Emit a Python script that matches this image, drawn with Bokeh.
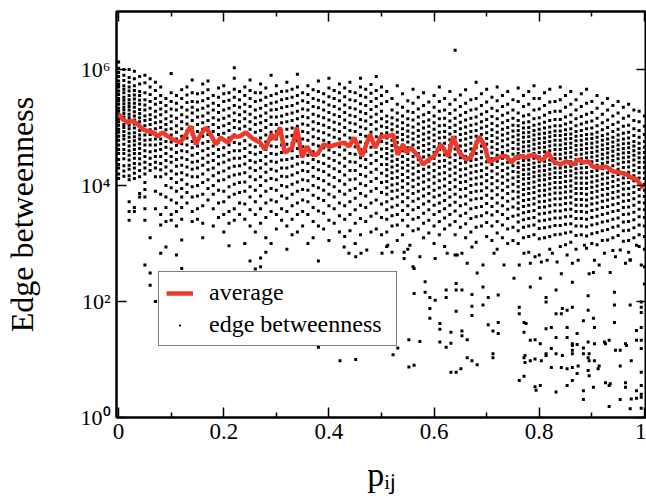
import math
from bokeh.plotting import figure
from bokeh.models import (Range1d, LinearAxis, LogAxis, FixedTicker,
                          Legend, LegendItem, CustomJSTickFormatter)
from bokeh.embed import file_html
from bokeh.resources import INLINE

FONT = "Liberation Serif"

# ---- data ----------------------------------------------------------------
# average edge betweenness vs p_ij (red line)
avg_p = [0.000, 0.008, 0.017, 0.027, 0.036, 0.046, 0.055, 0.065, 0.074, 0.084,
         0.093, 0.103, 0.116, 0.125, 0.137, 0.147, 0.156, 0.166, 0.175, 0.185,
         0.194, 0.208, 0.217, 0.230, 0.242, 0.257, 0.269, 0.278, 0.291, 0.297,
         0.307, 0.316, 0.330, 0.339, 0.349, 0.358, 0.368, 0.377, 0.390, 0.402,
         0.415, 0.429, 0.438, 0.448, 0.463, 0.478, 0.488, 0.499, 0.512, 0.522,
         0.531, 0.541, 0.547, 0.556, 0.570, 0.579, 0.590, 0.600, 0.613, 0.627,
         0.636, 0.648, 0.661, 0.670, 0.686, 0.695, 0.705, 0.714, 0.728, 0.737,
         0.747, 0.756, 0.764, 0.775, 0.789, 0.802, 0.808, 0.817, 0.827, 0.840,
         0.851, 0.865, 0.874, 0.884, 0.893, 0.903, 0.916, 0.928, 0.941, 0.954,
         0.966, 0.975, 0.985, 0.998]
avg_eb = [169000, 139000, 122000, 130000, 114000, 93000, 87000, 82000, 71000, 82000,
          71000, 62500, 55000, 67000, 106000, 51000, 76000, 100000, 76000, 51000,
          67000, 55000, 70000, 70000, 82000, 62500, 55000, 42000, 76000, 62500,
          100000, 37000, 45000, 100000, 30500, 47000, 34000, 34000, 51000, 47000,
          51000, 55000, 47000, 67000, 32000, 76000, 45000, 70000, 70000, 76000,
          34000, 51000, 37000, 45000, 32000, 23000, 28000, 32000, 51000, 32000,
          70000, 37000, 28000, 30500, 70000, 51000, 25000, 28000, 32000, 32000,
          25000, 30500, 32000, 30500, 34000, 28000, 28000, 37000, 26000, 23000,
          26000, 23000, 28000, 25000, 26000, 21000, 20500, 21000, 17400, 16700,
          15500, 13700, 12700, 9000]

# individual edges: p_ij columns and log10(edge betweenness) in each column
p_col = [0.00, 0.01, 0.02, 0.03, 0.04, 0.05, 0.06, 0.07, 0.08, 0.09,
         0.10, 0.11, 0.12, 0.13, 0.14, 0.15, 0.16, 0.17, 0.18, 0.19,
         0.20, 0.21, 0.22, 0.23, 0.24, 0.25, 0.26, 0.27, 0.28, 0.29,
         0.30, 0.31, 0.32, 0.33, 0.34, 0.35, 0.36, 0.37, 0.38, 0.39,
         0.40, 0.41, 0.42, 0.43, 0.44, 0.45, 0.46, 0.47, 0.48, 0.49,
         0.50, 0.51, 0.52, 0.53, 0.54, 0.55, 0.56, 0.57, 0.58, 0.59,
         0.60, 0.61, 0.62, 0.63, 0.64, 0.65, 0.66, 0.67, 0.68, 0.69,
         0.70, 0.71, 0.72, 0.73, 0.74, 0.75, 0.76, 0.77, 0.78, 0.79,
         0.80, 0.81, 0.82, 0.83, 0.84, 0.85, 0.86, 0.87, 0.88, 0.89,
         0.90, 0.91, 0.92, 0.93, 0.94, 0.95, 0.96, 0.97, 0.98, 0.99, 1.00]
log_eb_col = [
    [6.13, 6.02, 5.95, 5.88, 5.8, 5.74, 5.7, 5.63, 5.57, 5.5, 5.46, 5.4, 5.33, 5.28, 5.22, 5.15, 5.1, 5.04, 4.97, 4.92, 4.85, 4.78, 4.7, 4.62, 4.55, 4.45, 4.36, 4.3, 4.2, 4.12],
    [6.0, 5.9, 5.81, 5.72, 5.66, 5.6, 5.52, 5.47, 5.41, 5.35, 5.3, 5.24, 5.18, 5.12, 5.05, 5.0, 4.93, 4.86, 4.8, 4.71, 4.62, 4.55, 4.46, 4.34, 4.25, 4.16],
    [6.0, 5.86, 5.78, 5.7, 5.63, 5.55, 5.48, 5.42, 5.36, 5.3, 5.23, 5.17, 5.11, 5.04, 4.98, 4.9, 4.83, 4.76, 4.68, 4.6, 4.52, 4.44, 4.35, 4.28, 4.17, 4.1, 3.72, 3.55, 3.4],
    [5.97, 5.84, 5.72, 5.64, 5.56, 5.49, 5.42, 5.35, 5.27, 5.2, 5.13, 5.06, 4.99, 4.91, 4.84, 4.77, 4.7, 4.62, 4.55, 4.47, 4.38, 4.3, 4.21, 4.12, 3.62, 3.55],
    [5.88, 5.75, 5.62, 5.55, 5.47, 5.4, 5.31, 5.24, 5.17, 5.1, 5.02, 4.95, 4.87, 4.8, 4.72, 4.64, 4.55, 4.46, 4.37, 4.26, 4.15, 3.86, 3.8],
    [5.9, 5.77, 5.6, 5.48, 5.39, 5.3, 5.2, 5.12, 5.03, 4.95, 4.87, 4.78, 4.7, 4.6, 4.5, 4.4, 4.3, 4.2, 4.05, 3.93, 3.8, 3.6, 3.4, 2.63],
    [5.84, 5.7, 5.57, 5.45, 5.33, 5.22, 5.14, 5.05, 4.96, 4.88, 4.79, 4.7, 4.58, 4.47, 4.36, 4.26, 3.1, 2.49, 2.28],
    [5.78, 5.64, 5.5, 5.4, 5.28, 5.18, 5.08, 4.98, 4.9, 4.8, 4.7, 4.6, 4.5, 4.4, 4.3, 4.15, 3.9, 3.6, 2.0],
    [5.7, 5.55, 5.43, 5.32, 5.22, 5.1, 5.0, 4.9, 4.8, 4.72, 4.62, 4.5, 4.38, 4.27, 4.15, 3.85, 3.5, 3.32, 2.83, 1.67],
    [5.5, 5.38, 5.27, 5.15, 5.05, 4.96, 4.86, 4.76, 4.66, 4.55, 4.43, 4.32, 4.2, 4.0, 3.8, 3.62, 3.38, 2.94],
    [5.93, 5.6, 5.45, 5.32, 5.2, 5.1, 4.98, 4.87, 4.75, 4.63, 4.5, 4.4, 4.25, 4.12, 3.96, 3.75, 3.5, 3.4],
    [5.55, 5.42, 5.3, 5.16, 5.03, 4.92, 4.8, 4.69, 4.57, 4.45, 4.33, 4.2, 4.05, 3.9, 3.7, 3.55, 3.3, 2.8],
    [5.65, 5.5, 5.35, 5.22, 5.1, 4.98, 4.85, 4.72, 4.6, 4.48, 4.35, 4.22, 4.1, 3.95, 3.8, 3.62, 3.42, 3.06, 2.57],
    [5.7, 5.56, 5.43, 5.3, 5.18, 5.06, 4.94, 4.82, 4.7, 4.58, 4.45, 4.32, 4.18, 4.02, 3.88, 3.7],
    [5.82, 5.6, 5.45, 5.35, 5.25, 5.12, 5.0, 4.88, 4.76, 4.65, 4.52, 4.4, 4.28, 4.15, 3.98, 3.8, 3.55, 3.38],
    [5.58, 5.44, 5.3, 5.18, 5.05, 4.93, 4.8, 4.68, 4.55, 4.42, 4.3, 4.15, 4.0, 3.82, 3.6, 3.42],
    [5.75, 5.6, 5.46, 5.33, 5.2, 5.08, 4.97, 4.85, 4.73, 4.6, 4.47, 4.35, 4.2, 4.05, 3.85, 3.65, 3.35, 3.1],
    [5.8, 5.65, 5.5, 5.37, 5.25, 5.12, 5.0, 4.88, 4.76, 4.64, 4.52, 4.4, 4.27, 4.1, 3.95, 3.75],
    [5.55, 5.42, 5.3, 5.17, 5.05, 4.93, 4.8, 4.68, 4.55, 4.43, 4.3, 4.17, 4.0, 3.85, 3.6, 3.3],
    [5.68, 5.52, 5.38, 5.26, 5.13, 5.0, 4.88, 4.75, 4.62, 4.5, 4.37, 4.22, 4.08, 3.92, 3.7, 3.45],
    [5.72, 5.58, 5.45, 5.3, 5.16, 5.03, 4.9, 4.78, 4.65, 4.52, 4.4, 4.25, 4.1, 3.9, 3.72, 3.5, 3.2],
    [5.6, 5.47, 5.33, 5.2, 5.07, 4.95, 4.82, 4.7, 4.57, 4.44, 4.3, 4.15, 3.98, 3.8, 3.55, 3.35, 2.96],
    [6.03, 5.85, 5.66, 5.52, 5.38, 5.25, 5.12, 5.0, 4.87, 4.74, 4.6, 4.47, 4.33, 4.18, 4.02, 3.85, 3.6, 3.4],
    [5.62, 5.48, 5.35, 5.22, 5.1, 4.98, 4.85, 4.72, 4.6, 4.47, 4.34, 4.2, 4.05, 3.88, 3.7, 3.5],
    [5.7, 5.55, 5.4, 5.27, 5.15, 5.02, 4.9, 4.77, 4.64, 4.5, 4.37, 4.22, 4.06, 3.9, 3.68, 3.42, 3.0],
    [5.82, 5.64, 5.5, 5.36, 5.23, 5.1, 4.97, 4.84, 4.7, 4.57, 4.43, 4.3, 4.15, 3.98, 3.8, 3.58, 3.3, 2.7],
    [5.6, 5.45, 5.3, 5.17, 5.05, 4.92, 4.8, 4.67, 4.54, 4.4, 4.26, 4.1, 3.92, 3.72, 3.5, 3.2, 2.56],
    [5.75, 5.6, 5.47, 5.33, 5.2, 5.08, 4.95, 4.82, 4.7, 4.57, 4.43, 4.3, 4.15, 4.0, 3.82, 3.6, 3.35, 2.75, 2.6],
    [5.68, 5.52, 5.38, 5.25, 5.12, 5.0, 4.87, 4.75, 4.62, 4.5, 4.37, 4.23, 4.08, 3.9, 3.7, 3.45, 3.1, 2.85],
    [5.9, 5.55, 5.42, 5.3, 5.18, 5.05, 4.92, 4.8, 4.68, 4.55, 4.42, 4.28, 4.12, 3.95, 3.75, 3.55, 3.0],
    [5.72, 5.58, 5.44, 5.31, 5.18, 5.05, 4.93, 4.8, 4.67, 4.54, 4.4, 4.25, 4.1, 3.92, 3.72, 3.5, 3.25],
    [5.62, 5.48, 5.34, 5.2, 5.08, 4.95, 4.82, 4.7, 4.57, 4.44, 4.3, 4.16, 4.0, 3.82, 3.6, 3.4],
    [5.78, 5.63, 5.5, 5.36, 5.23, 5.1, 4.97, 4.84, 4.71, 4.58, 4.45, 4.3, 4.15, 3.98, 3.78, 3.55, 3.3, 2.9],
    [5.66, 5.52, 5.38, 5.25, 5.12, 4.99, 4.86, 4.73, 4.6, 4.47, 4.33, 4.18, 4.02, 3.85, 3.65, 3.42, 3.15],
    [5.92, 5.7, 5.55, 5.42, 5.28, 5.15, 5.02, 4.9, 4.77, 4.64, 4.5, 4.37, 4.22, 4.06, 3.9, 3.7, 3.5, 3.2],
    [5.6, 5.46, 5.32, 5.19, 5.06, 4.93, 4.8, 4.67, 4.54, 4.4, 4.26, 4.1, 3.93, 3.75, 3.55, 3.3],
    [5.72, 5.57, 5.43, 5.3, 5.17, 5.04, 4.91, 4.78, 4.65, 4.52, 4.38, 4.24, 4.08, 3.92, 3.72, 3.5, 3.0],
    [5.65, 5.5, 5.36, 5.23, 5.1, 4.97, 4.84, 4.71, 4.58, 4.45, 4.31, 4.16, 4.0, 3.83, 3.62, 3.38, 3.1],
    [5.8, 5.62, 5.47, 5.34, 5.2, 5.07, 4.94, 4.81, 4.68, 4.55, 4.41, 4.27, 4.12, 3.96, 3.78, 3.56, 3.3, 2.7, 1.21],
    [5.58, 5.44, 5.3, 5.17, 5.04, 4.91, 4.78, 4.65, 4.52, 4.38, 4.24, 4.08, 3.92, 3.74, 3.52, 3.25],
    [5.85, 5.68, 5.53, 5.39, 5.26, 5.13, 5.0, 4.87, 4.74, 4.61, 4.47, 4.33, 4.18, 4.02, 3.85, 3.65, 3.4, 3.05],
    [5.64, 5.5, 5.36, 5.22, 5.09, 4.96, 4.83, 4.7, 4.57, 4.43, 4.29, 4.14, 3.98, 3.8, 3.6, 3.35],
    [5.75, 5.6, 5.46, 5.32, 5.19, 5.06, 4.93, 4.8, 4.67, 4.53, 4.39, 4.24, 4.08, 3.9, 3.7, 3.48, 3.2],
    [5.68, 5.53, 5.39, 5.26, 5.13, 5.0, 4.87, 4.74, 4.61, 4.47, 4.33, 4.18, 4.02, 3.85, 3.65, 3.42, 3.12],
    [5.78, 5.62, 5.48, 5.34, 5.21, 5.08, 4.95, 4.82, 4.69, 4.55, 4.41, 4.26, 4.1, 3.92, 3.72, 3.5, 3.22],
    [5.6, 5.46, 5.32, 5.19, 5.06, 4.93, 4.8, 4.67, 4.54, 4.4, 4.26, 4.11, 3.95, 3.78, 3.58, 3.35, 3.0],
    [5.85, 5.7, 5.55, 5.41, 5.27, 5.14, 5.01, 4.88, 4.75, 4.62, 4.48, 4.34, 4.19, 4.03, 3.86, 3.66, 3.43, 3.15],
    [5.66, 5.52, 5.38, 5.24, 5.11, 4.98, 4.85, 4.72, 4.59, 4.45, 4.31, 4.16, 4.0, 3.82, 3.62, 3.38],
    [5.74, 5.59, 5.45, 5.31, 5.18, 5.05, 4.92, 4.79, 4.66, 4.52, 4.38, 4.23, 4.07, 3.9, 3.7, 3.47, 3.2],
    [5.88, 5.64, 5.5, 5.36, 5.23, 5.1, 4.97, 4.84, 4.71, 4.57, 4.43, 4.28, 4.12, 3.95, 3.75, 3.52, 3.25],
    [5.7, 5.55, 5.41, 5.28, 5.15, 5.02, 4.89, 4.76, 4.63, 4.5, 4.36, 4.21, 4.05, 3.88, 3.68, 3.45, 3.15],
    [5.62, 5.45, 5.2, 5.1, 5.0, 4.91, 4.82, 4.73, 4.64, 4.55, 4.46, 4.36, 4.27, 4.17, 4.07, 3.96, 3.85, 3.72, 3.58, 3.42, 3.2, 2.95],
    [5.5, 5.3, 5.17, 5.06, 4.96, 4.87, 4.78, 4.69, 4.6, 4.51, 4.42, 4.32, 4.22, 4.12, 4.01, 3.9, 3.77, 3.63, 3.48, 3.3, 2.85],
    [5.72, 5.4, 5.25, 5.13, 5.02, 4.92, 4.83, 4.74, 4.65, 4.55, 4.45, 4.35, 4.25, 4.14, 4.03, 3.92, 3.8, 3.66, 3.5, 3.32, 3.05],
    [5.58, 5.35, 5.2, 5.08, 4.98, 4.88, 4.79, 4.7, 4.6, 4.5, 4.4, 4.3, 4.19, 4.08, 3.97, 3.85, 3.72, 3.57, 3.4, 3.15],
    [5.46, 5.28, 5.15, 5.04, 4.94, 4.84, 4.75, 4.65, 4.55, 4.45, 4.35, 4.25, 4.14, 4.03, 3.91, 3.79, 3.65, 3.5, 3.3, 2.9],
    [5.66, 5.42, 5.26, 5.13, 5.01, 4.9, 4.8, 4.7, 4.6, 4.5, 4.4, 4.3, 4.2, 4.09, 3.98, 3.86, 3.73, 3.58, 3.42, 3.22, 2.6],
    [5.52, 5.32, 5.18, 5.06, 4.95, 4.85, 4.75, 4.65, 4.55, 4.45, 4.35, 4.24, 4.13, 4.02, 3.9, 3.77, 3.62, 3.45, 3.25],
    [5.6, 5.38, 5.22, 5.1, 4.99, 4.89, 4.79, 4.69, 4.59, 4.49, 4.39, 4.28, 4.17, 4.06, 3.94, 3.82, 3.68, 3.52, 3.35, 3.1],
    [5.44, 5.26, 5.13, 5.02, 4.92, 4.82, 4.72, 4.62, 4.52, 4.42, 4.32, 4.21, 4.1, 3.98, 3.86, 3.73, 3.58, 3.4, 3.18],
    [5.55, 5.35, 5.2, 5.08, 4.97, 4.87, 4.77, 4.67, 4.57, 4.47, 4.37, 4.26, 4.15, 4.04, 3.92, 3.8, 3.66, 3.5, 3.3, 3.0],
    [5.7, 5.45, 5.28, 5.15, 5.03, 4.92, 4.82, 4.72, 4.62, 4.52, 4.42, 4.31, 4.2, 4.08, 3.96, 3.83, 3.7, 3.55, 3.38, 3.15],
    [5.5, 5.3, 5.16, 5.04, 4.93, 4.83, 4.73, 4.63, 4.53, 4.43, 4.33, 4.22, 4.11, 3.99, 3.87, 3.74, 3.6, 3.44, 3.25, 2.95],
    [5.62, 5.4, 5.24, 5.11, 5.0, 4.89, 4.79, 4.69, 4.59, 4.49, 4.39, 4.28, 4.17, 4.05, 3.93, 3.8, 3.66, 3.5, 3.32],
    [6.33, 5.48, 5.3, 5.16, 5.04, 4.93, 4.83, 4.73, 4.63, 4.53, 4.43, 4.32, 4.21, 4.1, 3.98, 3.85, 3.71, 3.56, 3.38, 3.15, 2.8],
    [5.56, 5.36, 5.21, 5.09, 4.98, 4.88, 4.78, 4.68, 4.58, 4.48, 4.38, 4.27, 4.16, 4.05, 3.93, 3.8, 3.65, 3.48, 3.28],
    [5.65, 5.42, 5.26, 5.13, 5.01, 4.9, 4.8, 4.7, 4.6, 4.5, 4.4, 4.29, 4.18, 4.07, 3.95, 3.82, 3.68, 3.52, 3.34, 3.1],
    [5.48, 5.3, 5.16, 5.04, 4.93, 4.83, 4.73, 4.63, 4.53, 4.43, 4.33, 4.22, 4.11, 4.0, 3.88, 3.75, 3.6, 3.43, 3.2],
    [5.78, 5.5, 5.32, 5.18, 5.06, 4.95, 4.85, 4.75, 4.65, 4.55, 4.45, 4.35, 4.24, 4.13, 4.02, 3.9, 3.77, 3.62, 3.46, 3.28, 3.02],
    [5.58, 5.38, 5.23, 5.1, 4.99, 4.88, 4.78, 4.68, 4.58, 4.48, 4.37, 4.26, 4.15, 4.03, 3.91, 3.78, 3.64, 3.48, 3.3],
    [5.66, 5.44, 5.27, 5.14, 5.02, 4.91, 4.81, 4.71, 4.61, 4.51, 4.41, 4.3, 4.19, 4.08, 3.96, 3.83, 3.69, 3.53, 3.36, 3.12],
    [5.52, 5.33, 5.19, 5.07, 4.96, 4.86, 4.76, 4.66, 4.56, 4.46, 4.36, 4.25, 4.14, 4.03, 3.91, 3.78, 3.64, 3.49, 3.3, 3.05],
    [5.7, 5.46, 5.29, 5.15, 5.03, 4.92, 4.82, 4.72, 4.62, 4.52, 4.42, 4.31, 4.2, 4.08, 3.96, 3.84, 3.7, 3.55, 3.38, 3.18, 2.9],
    [5.55, 5.36, 5.21, 5.08, 4.97, 4.87, 4.77, 4.67, 4.57, 4.47, 4.37, 4.26, 4.15, 4.04, 3.92, 3.79, 3.65, 3.5, 3.32, 3.1],
    [5.62, 5.4, 5.25, 5.12, 5.0, 4.9, 4.8, 4.7, 4.6, 4.5, 4.4, 4.3, 4.2, 4.09, 3.98, 3.86, 3.73, 3.59, 3.43, 3.25, 3.0],
    [5.48, 5.3, 5.16, 5.04, 4.94, 4.84, 4.74, 4.64, 4.54, 4.44, 4.34, 4.24, 4.13, 4.02, 3.9, 3.77, 3.63, 3.47, 3.28, 3.05],
    [5.68, 5.45, 5.25, 5.12, 5.03, 4.95, 4.87, 4.79, 4.71, 4.63, 4.55, 4.47, 4.39, 4.31, 4.23, 4.15, 4.07, 3.98, 3.89, 3.8, 3.7, 3.6, 3.49, 3.37, 3.22, 3.0],
    [5.55, 5.36, 5.2, 5.08, 4.99, 4.91, 4.83, 4.75, 4.67, 4.59, 4.51, 4.43, 4.35, 4.27, 4.19, 4.11, 4.02, 3.93, 3.84, 3.74, 3.64, 3.53, 3.41, 3.28, 3.1],
    [5.62, 5.4, 5.22, 5.1, 5.0, 4.92, 4.84, 4.76, 4.68, 4.6, 4.52, 4.44, 4.36, 4.28, 4.2, 4.12, 4.04, 3.95, 3.86, 3.76, 3.66, 3.55, 3.43, 3.3, 3.12, 2.85],
    [5.72, 5.5, 5.3, 5.15, 5.04, 4.95, 4.87, 4.79, 4.71, 4.63, 4.55, 4.47, 4.39, 4.31, 4.23, 4.15, 4.06, 3.97, 3.88, 3.78, 3.68, 3.57, 3.45, 3.32, 3.15],
    [5.5, 5.32, 5.17, 5.06, 4.97, 4.89, 4.81, 4.73, 4.65, 4.57, 4.49, 4.41, 4.33, 4.25, 4.17, 4.09, 4.0, 3.91, 3.82, 3.72, 3.62, 3.51, 3.39, 3.26, 3.08, 2.8],
    [5.6, 5.38, 5.21, 5.09, 4.99, 4.9, 4.82, 4.74, 4.66, 4.58, 4.5, 4.42, 4.34, 4.26, 4.18, 4.1, 4.01, 3.92, 3.83, 3.73, 3.63, 3.52, 3.4, 3.27, 3.1],
    [5.66, 5.44, 5.26, 5.12, 5.01, 4.92, 4.84, 4.76, 4.68, 4.6, 4.52, 4.44, 4.36, 4.28, 4.2, 4.12, 4.03, 3.94, 3.85, 3.75, 3.65, 3.54, 3.42, 3.29, 3.12, 2.9],
    [5.45, 5.28, 5.14, 5.03, 4.94, 4.86, 4.78, 4.7, 4.62, 4.54, 4.46, 4.38, 4.3, 4.22, 4.14, 4.05, 3.96, 3.87, 3.77, 3.67, 3.56, 3.44, 3.31, 3.15],
    [5.7, 5.48, 5.28, 5.14, 5.03, 4.94, 4.86, 4.78, 4.7, 4.62, 4.54, 4.46, 4.38, 4.3, 4.22, 4.14, 4.05, 3.96, 3.87, 3.77, 3.67, 3.56, 3.44, 3.31, 3.16, 2.95],
    [5.55, 5.35, 5.18, 5.06, 4.96, 4.88, 4.8, 4.72, 4.64, 4.56, 4.48, 4.4, 4.32, 4.24, 4.16, 4.07, 3.98, 3.89, 3.79, 3.69, 3.58, 3.46, 3.33, 3.18, 2.98],
    [5.62, 5.4, 5.22, 5.09, 4.98, 4.89, 4.81, 4.73, 4.65, 4.57, 4.49, 4.41, 4.33, 4.25, 4.17, 4.08, 3.99, 3.9, 3.8, 3.7, 3.59, 3.47, 3.34, 3.2, 3.02],
    [5.48, 5.3, 5.15, 5.03, 4.93, 4.85, 4.77, 4.69, 4.61, 4.53, 4.45, 4.37, 4.29, 4.21, 4.13, 4.04, 3.95, 3.86, 3.76, 3.66, 3.55, 3.43, 3.3, 3.14, 2.9],
    [5.58, 5.36, 5.19, 5.06, 4.95, 4.86, 4.78, 4.7, 4.62, 4.54, 4.46, 4.38, 4.3, 4.22, 4.13, 4.04, 3.95, 3.86, 3.76, 3.66, 3.55, 3.43, 3.3, 3.15],
    [5.66, 5.42, 5.23, 5.09, 4.98, 4.88, 4.8, 4.72, 4.64, 4.56, 4.48, 4.4, 4.31, 4.22, 4.13, 4.04, 3.95, 3.85, 3.75, 3.65, 3.54, 3.42, 3.29, 3.13, 2.92],
    [5.45, 5.26, 5.11, 4.99, 4.89, 4.81, 4.73, 4.65, 4.57, 4.49, 4.41, 4.33, 4.24, 4.15, 4.06, 3.97, 3.88, 3.78, 3.68, 3.57, 3.45, 3.32, 3.17, 3.0],
    [5.55, 5.33, 5.16, 5.03, 4.92, 4.83, 4.75, 4.67, 4.59, 4.51, 4.43, 4.35, 4.26, 4.17, 4.08, 3.99, 3.9, 3.8, 3.7, 3.59, 3.47, 3.34, 3.19, 2.98],
    [5.42, 5.23, 5.08, 4.96, 4.86, 4.78, 4.7, 4.62, 4.54, 4.46, 4.38, 4.29, 4.2, 4.11, 4.02, 3.93, 3.83, 3.73, 3.62, 3.5, 3.37, 3.22, 3.05],
    [5.5, 5.3, 5.13, 5.0, 4.89, 4.8, 4.72, 4.64, 4.56, 4.48, 4.4, 4.31, 4.22, 4.13, 4.04, 3.95, 3.85, 3.75, 3.64, 3.52, 3.39, 3.24, 3.06],
    [5.38, 5.2, 5.05, 4.93, 4.83, 4.75, 4.67, 4.59, 4.51, 4.43, 4.34, 4.25, 4.16, 4.07, 3.98, 3.88, 3.78, 3.67, 3.55, 3.42, 3.28, 3.1, 2.88],
    [5.45, 5.25, 5.09, 4.97, 4.87, 4.78, 4.7, 4.62, 4.54, 4.46, 4.37, 4.28, 4.19, 4.1, 4.0, 3.9, 3.8, 3.69, 3.57, 3.44, 3.3, 3.14],
    [5.35, 5.16, 5.02, 4.9, 4.8, 4.72, 4.64, 4.56, 4.48, 4.4, 4.31, 4.22, 4.13, 4.04, 3.94, 3.84, 3.73, 3.62, 3.5, 3.37, 3.22, 3.04],
    [5.4, 5.2, 5.04, 4.92, 4.82, 4.73, 4.65, 4.57, 4.49, 4.41, 4.32, 4.23, 4.14, 4.05, 3.95, 3.85, 3.74, 3.63, 3.51, 3.38, 3.23, 3.05, 2.85],
    [5.3, 5.12, 4.98, 4.86, 4.76, 4.68, 4.6, 4.52, 4.44, 4.35, 4.26, 4.17, 4.08, 3.98, 3.88, 3.77, 3.66, 3.54, 3.41, 3.27, 3.1],
    [5.28, 5.1, 4.95, 4.83, 4.73, 4.64, 4.56, 4.48, 4.4, 4.31, 4.22, 4.13, 4.03, 3.93, 3.82, 3.71, 3.59, 3.46, 3.32, 3.15, 2.95],
    [5.2, 5.02, 4.88, 4.76, 4.66, 4.57, 4.48, 4.4, 4.31, 4.22, 4.12, 4.02, 3.92, 3.81, 3.7, 3.58, 3.45, 3.3, 3.12, 2.9, 2.6, 2.3],
]

# sparse low-betweenness edges (p_ij, log10 edge betweenness)
tail_p = [0.421, 0.451, 0.522, 0.531, 0.552, 0.562, 0.552, 0.573, 0.562, 0.562,
          0.583, 0.583, 0.592, 0.592, 0.592, 0.602, 0.611, 0.611, 0.611, 0.623,
          0.623, 0.623, 0.632, 0.632, 0.632, 0.642, 0.651, 0.642, 0.642, 0.642,
          0.653, 0.653, 0.653, 0.663, 0.663, 0.672, 0.672, 0.672, 0.672, 0.682,
          0.682, 0.693, 0.693, 0.703, 0.703, 0.712, 0.712, 0.712, 0.722, 0.722,
          0.722, 0.733, 0.752, 0.762, 0.762, 0.762, 0.771, 0.771, 0.771, 0.771,
          0.783, 0.783, 0.792, 0.792, 0.792, 0.802, 0.802, 0.802, 0.813, 0.813,
          0.813, 0.813, 0.823, 0.823, 0.832, 0.832, 0.832, 0.832, 0.842, 0.842,
          0.842, 0.853, 0.853, 0.853, 0.863, 0.863, 0.863, 0.863, 0.863, 0.872,
          0.872, 0.872, 0.884, 0.884, 0.884, 0.893, 0.893, 0.893, 0.893, 0.893,
          0.903, 0.903, 0.903, 0.912, 0.924, 0.933, 0.933, 0.933, 0.943, 0.943,
          0.943, 0.954, 0.954, 0.954, 0.964, 0.964, 0.964, 0.973, 0.973, 0.973,
          0.985, 0.985, 0.985, 0.994, 0.994, 0.994, 0.994, 0.994, 0.994, 0.994,
          0.429, 0.438, 0.451, 0.461, 0.472, 0.501, 0.512, 0.543, 0.543, 0.554,
          0.573, 0.602, 0.625, 0.644, 0.653, 0.663, 0.672, 0.693, 0.714, 0.762,
          0.771, 0.783, 0.792, 0.804, 0.815, 0.825, 0.834, 0.853, 0.863, 0.874,
          0.886, 0.895, 0.905, 0.914, 0.924, 0.935, 0.945, 0.954, 0.964, 0.973,
          0.985, 0.994,
          0.775, 0.773, 0.773, 0.783, 0.794, 0.804, 0.813, 0.823, 0.832, 0.844,
          0.844, 0.853, 0.853, 0.863, 0.863, 0.863, 0.874, 0.884, 0.884, 0.895,
          0.895, 0.895, 0.905, 0.905, 0.905, 0.914, 0.926, 0.926, 0.935, 0.945,
          0.966, 0.975, 0.975, 0.985, 0.994, 0.994, 0.994, 0.994]
tail_log_eb = [0.98, 1.00, 1.08, 1.20, 0.87, 0.90, 1.34, 1.31, 2.57, 2.14,
               2.34, 2.16, 2.07, 1.88, 1.71, 2.02, 1.62, 1.52, 1.30, 2.20,
               2.07, 1.21, 1.47, 1.28, 0.78, 0.78, 0.84, 2.31, 2.20, 1.83,
               1.49, 2.20, 1.41, 1.34, 1.03, 2.12, 1.92, 1.76, 0.98, 0.91,
               2.49, 2.25, 1.94, 2.07, 1.60, 1.49, 1.10, 1.03, 2.11, 1.64,
               1.45, 2.63, 2.40, 1.90, 1.79, 0.64, 0.71, 1.47, 1.03, 1.64,
               1.33, 2.25, 1.01, 1.34, 0.53, 2.40, 1.27, 0.55, 2.07, 1.99,
               1.53, 1.10, 1.19, 0.86, 2.20, 1.79, 1.38, 0.44, 1.79, 0.86,
               2.48, 1.85, 1.38, 0.55, 2.33, 1.90, 1.24, 1.10, 0.86, 1.45,
               1.26, 0.76, 1.67, 1.10, 0.31, 2.10, 1.85, 1.30, 1.03, 0.81,
               2.50, 1.71, 0.52, 0.84, 1.30, 1.33, 0.55, 0.19, 2.16, 1.94,
               1.64, 1.16, 0.89, 0.31, 1.27, 0.60, 0.52, 2.72, 0.15, 1.94,
               1.50, 1.33, 0.33, 1.99, 1.81, 1.55, 1.19, 0.78, 0.55, 0.35,
               2.94, 2.83, 2.77, 2.83, 2.89, 2.83, 2.97, 2.85, 2.74, 2.97,
               2.77, 2.74, 2.83, 2.80, 2.83, 2.66, 2.94, 2.63, 2.83, 2.63,
               2.83, 2.66, 2.77, 2.68, 2.71, 2.83, 2.68, 2.80, 2.66, 2.71,
               2.97, 2.48, 2.71, 2.63, 2.83, 2.50, 2.77, 2.89, 2.66, 2.71,
               2.97, 2.63,
               1.62, 1.07, 0.95, 0.98, 0.47, 0.98, 1.07, 1.55, 1.10, 1.88,
               1.07, 1.55, 0.84, 1.27, 1.16, 0.64, 0.89, 1.20, 0.46, 1.10,
               0.98, 0.72, 1.55, 1.27, 0.98, 0.89, 1.27, 0.60, 0.58, 1.16,
               1.24, 0.98, 0.32, 0.46, 1.90, 1.33, 0.40, 0.16]

x_ticks = [0, 0.2, 0.4, 0.6, 0.8, 1]
x_minor_ticks = [0.1, 0.3, 0.5, 0.7, 0.9]
x_tick_labels = ["0", "0.2", "0.4", "0.6", "0.8", "1"]
y_ticks = [1, 100, 10000, 1000000]
y_tick_labels = ["10\u2070", "10\u00b2", "10\u2074", "10\u2076"]

# ---- build point lists ---------------------------------------------------
pts_p, pts_eb = [], []
for pc, col in zip(p_col, log_eb_col):
    for v in col:
        pts_p.append(pc)
        pts_eb.append(10 ** v)
for pc, v in zip(tail_p, tail_log_eb):
    pts_p.append(pc)
    pts_eb.append(10 ** v)

# ---- figure --------------------------------------------------------------
p = figure(width=646, height=502, y_axis_type="log",
           x_range=Range1d(-0.004, 1.004), y_range=Range1d(1, 1e7),
           output_backend="svg", toolbar_location=None,
           min_border_left=116, min_border_right=0,
           min_border_top=11, min_border_bottom=85)
p.background_fill_color = "white"
p.border_fill_color = "white"
p.xgrid.visible = False
p.ygrid.visible = False
p.outline_line_color = "black"
p.outline_line_width = 2

r_pts = p.scatter(pts_p, pts_eb, marker="square", size=3.0,
                  fill_color="black", line_color=None)
r_avg = p.line(avg_p, avg_eb, line_color="#ee3a2c", line_width=4.5)
# legend key glyph: a tiny dot drawn on top of the first edge point
r_key = p.scatter(x=pts_p[:1], y=pts_eb[:1], marker="dot", size=10,
                  color="black")


def style_axis(ax, ticker, labels=None, minor=True, font_size="22px"):
    ax.ticker = ticker
    ax.axis_line_color = "black"
    ax.axis_line_width = 2
    ax.major_tick_in = 10
    ax.major_tick_out = 0
    ax.major_tick_line_width = 1.5
    ax.major_tick_line_color = "black"
    if minor:
        ax.minor_tick_in = 5
        ax.minor_tick_out = 0
        ax.minor_tick_line_width = 1.5
        ax.minor_tick_line_color = "black"
    else:
        ax.minor_tick_line_color = None
    ax.major_label_text_font = FONT
    ax.major_label_text_font_size = font_size
    ax.major_label_text_color = "black"
    if labels is None:
        ax.formatter = CustomJSTickFormatter(code="return ''")
        ax.major_label_standoff = 0
    else:
        ax.major_label_overrides = labels
        ax.major_label_standoff = 6


xtick = FixedTicker(ticks=x_ticks, minor_ticks=x_minor_ticks)
ytick = FixedTicker(ticks=y_ticks, minor_ticks=[])

style_axis(p.xaxis[0], xtick, dict(zip(x_ticks, x_tick_labels)), font_size="23px")
style_axis(p.yaxis[0], ytick, dict(zip(y_ticks, y_tick_labels)), minor=False)

yax = p.yaxis[0]
yax.axis_label = "Edge betweenness"
yax.axis_label_text_font = FONT
yax.axis_label_text_font_size = "32px"
yax.axis_label_text_font_style = "normal"
yax.axis_label_text_color = "black"
yax.axis_label_standoff = 38

xax = p.xaxis[0]
xax.axis_label = "p\u1d62\u2c7c"
xax.axis_label_text_font = FONT
xax.axis_label_text_font_size = "34px"
xax.axis_label_text_font_style = "normal"
xax.axis_label_text_color = "black"
xax.axis_label_standoff = 14

top_ax = LinearAxis()
style_axis(top_ax, FixedTicker(ticks=x_ticks, minor_ticks=x_minor_ticks))
p.add_layout(top_ax, "above")
right_ax = LogAxis()
style_axis(right_ax, FixedTicker(ticks=y_ticks, minor_ticks=[]), minor=False)
p.add_layout(right_ax, "right")

legend = Legend(items=[LegendItem(label="average", renderers=[r_avg]),
                       LegendItem(label="edge betweenness", renderers=[r_key])],
                location=(42, 71), orientation="vertical",
                padding=7, spacing=5, margin=0,
                glyph_width=27, glyph_height=22, label_height=22,
                label_width=180, label_standoff=16,
                label_text_font=FONT, label_text_font_size="24px",
                label_text_color="black",
                border_line_color="black", border_line_width=1,
                background_fill_color="white", background_fill_alpha=1)
p.add_layout(legend)

open("out.html", "w").write(file_html(p, INLINE))
